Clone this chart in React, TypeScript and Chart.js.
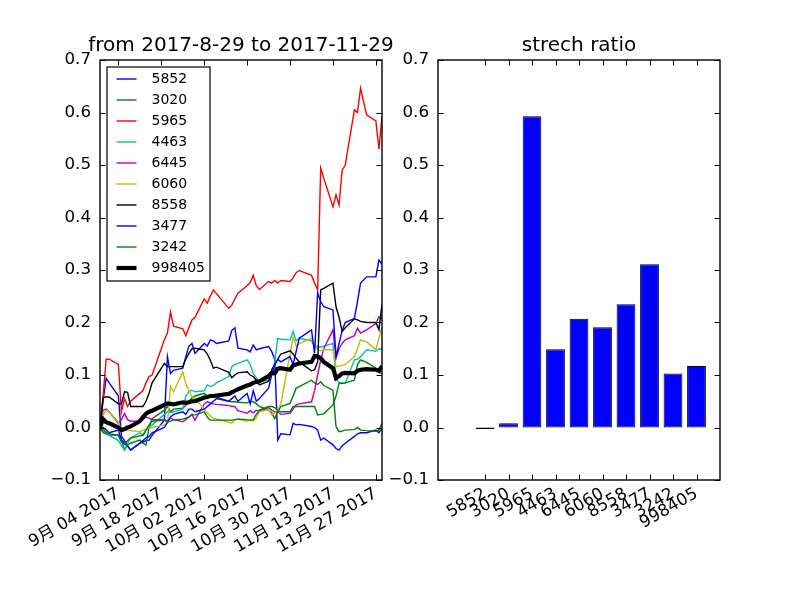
import { useEffect, useRef } from "react";
import { Chart, registerables } from "chart.js";

Chart.register(...registerables);

const FONT = "'DejaVu Sans', 'Noto Sans CJK JP', sans-serif";

// trading days (Tokyo) from 2017-08-29 to 2017-11-29
const tradingDates = [
  "2017-08-29", "2017-08-30", "2017-08-31", "2017-09-01",
  "2017-09-04", "2017-09-05", "2017-09-06", "2017-09-07", "2017-09-08",
  "2017-09-11", "2017-09-12", "2017-09-13", "2017-09-14", "2017-09-15",
  "2017-09-19", "2017-09-20", "2017-09-21", "2017-09-22",
  "2017-09-25", "2017-09-26", "2017-09-27", "2017-09-28", "2017-09-29",
  "2017-10-02", "2017-10-03", "2017-10-04", "2017-10-05", "2017-10-06",
  "2017-10-10", "2017-10-11", "2017-10-12", "2017-10-13",
  "2017-10-16", "2017-10-17", "2017-10-18", "2017-10-19", "2017-10-20",
  "2017-10-23", "2017-10-24", "2017-10-25", "2017-10-26", "2017-10-27",
  "2017-10-30", "2017-10-31", "2017-11-01", "2017-11-02",
  "2017-11-06", "2017-11-07", "2017-11-08", "2017-11-09", "2017-11-10",
  "2017-11-13", "2017-11-14", "2017-11-15", "2017-11-16", "2017-11-17",
  "2017-11-20", "2017-11-21", "2017-11-22", "2017-11-24",
  "2017-11-27", "2017-11-28", "2017-11-29",
];

const codes = ["5852", "3020", "5965", "4463", "6445", "6060", "8558", "3477", "3242", "998405"];
const lineColors = ["#0000ff", "#008000", "#ff0000", "#00bfbf", "#bf00bf", "#bfbf00", "#000000", "#0000ff", "#008000", "#000000"];
const lineWidths = [1.4, 1.4, 1.4, 1.4, 1.4, 1.4, 1.4, 1.4, 1.4, 4.2];

const s5852 = [
  0, 0.05, 0.094, 0.085,
  0.06, -0.017, -0.025, -0.035, -0.043,
  -0.03, -0.028, -0.025, -0.024, -0.015,
  0.014, 0.135, 0.103, 0.109,
  0.113, 0.135, 0.155, 0.16, 0.141,
  0.16, 0.155, 0.167, 0.165, 0.16,
  0.165, 0.185, 0.19, 0.151,
  0.148, 0.144, 0.157, 0.148, 0.15,
  0.154, 0.145, 0.13, -0.024, -0.012,
  -0.014, 0.008, 0.005, 0.006,
  0.002, 0.0, -0.005, -0.024, -0.02,
  -0.033, -0.04, -0.043, -0.035, -0.03,
  -0.017, -0.012, -0.01, -0.01,
  -0.005, -0.01, -0.002,
];
const s3020 = [
  0, -0.01, -0.012, -0.015,
  -0.014, -0.024, -0.043, -0.033, -0.03,
  -0.024, -0.03, -0.033, 0.0, 0.017,
  0.033, 0.04, 0.03, 0.035,
  0.037, 0.042, 0.05, 0.056, 0.06,
  0.065, 0.06, 0.06, 0.062, 0.058,
  0.05, 0.049, 0.049, 0.048,
  0.047, 0.05, 0.049, 0.045, 0.04,
  0.033, 0.028, 0.017, 0.03, 0.04,
  0.046, 0.06, 0.075, 0.078,
  0.09, 0.085, 0.082, 0.087, 0.08,
  0.071, 0.002, -0.008, -0.007, -0.005,
  -0.004, 0.0, -0.005, -0.006,
  -0.007, -0.005, 0.008,
];
const s5965 = [
  0, 0.06, 0.13, 0.13,
  0.12, 0.03, 0.055, 0.04, 0.05,
  0.065, 0.07, 0.085, 0.097, 0.1,
  0.167, 0.18, 0.22, 0.193,
  0.188, 0.175, 0.19, 0.205, 0.21,
  0.245, 0.237, 0.25, 0.262, 0.255,
  0.227, 0.233, 0.245, 0.256,
  0.27, 0.276, 0.29, 0.27, 0.263,
  0.278, 0.275, 0.28, 0.275, 0.28,
  0.278, 0.285, 0.295, 0.299,
  0.29, 0.275, 0.262, 0.494, 0.475,
  0.42, 0.443, 0.424, 0.49, 0.5,
  0.605, 0.6, 0.646, 0.595,
  0.584, 0.53, 0.593,
];
const s4463 = [
  0, -0.005, -0.01, -0.015,
  -0.025, -0.035, -0.043, -0.03, -0.02,
  -0.01, -0.015, -0.005, 0.0, 0.005,
  0.025, 0.03, 0.028, 0.03,
  0.035, 0.06, 0.068, 0.071, 0.068,
  0.07, 0.081, 0.078, 0.08, 0.085,
  0.097, 0.116, 0.12, 0.122,
  0.129, 0.12, 0.103, 0.095, 0.087,
  0.09, 0.1, 0.125, 0.17, 0.168,
  0.167, 0.183, 0.165, 0.17,
  0.165, 0.154, 0.155, 0.153, 0.155,
  0.16, 0.094, 0.086, 0.085, 0.084,
  0.129, 0.13, 0.135, 0.148,
  0.145, 0.15, 0.149,
];
const s6445 = [
  0, 0.033, 0.035, 0.03,
  0.008, 0.015, 0.027, 0.015, 0.012,
  0.012, 0.015, 0.02, 0.018, 0.015,
  0.015, 0.012, 0.018, 0.015,
  0.011, 0.015, 0.02, 0.025, 0.014,
  0.045, 0.049, 0.047, 0.045, 0.044,
  0.042, 0.04, 0.04, 0.032,
  0.027, 0.032, 0.028, 0.033, 0.031,
  0.038, 0.033, 0.03, 0.03, 0.025,
  0.027, 0.035, 0.043, 0.045,
  0.049, 0.07, 0.1, 0.129, 0.15,
  0.186, 0.132, 0.15, 0.16, 0.167,
  0.175, 0.189, 0.18, 0.186,
  0.198, 0.211, 0.207,
];
const s6060 = [
  0, 0.024, 0.033, 0.03,
  0.01, -0.005, -0.005, -0.006, -0.006,
  -0.008, -0.005, -0.003, -0.002, 0.0,
  0.005, 0.008, 0.078, 0.068,
  0.106, 0.084, 0.07, 0.059, 0.055,
  0.035, 0.027, 0.022, 0.018, 0.016,
  0.01, 0.008, 0.015, 0.016,
  0.012, 0.014, 0.012, 0.018, 0.03,
  0.034, 0.024, 0.027, 0.035, 0.045,
  0.14, 0.172, 0.155, 0.16,
  0.17, 0.16, 0.148, 0.146, 0.148,
  0.148, 0.116, 0.117, 0.118, 0.12,
  0.135, 0.15, 0.167, 0.163,
  0.148, 0.17, 0.191,
];
const s8558 = [
  0, 0.057, 0.058, 0.058,
  0.045, 0.045, 0.068, 0.067, 0.04,
  0.04, 0.04, 0.05, 0.065, 0.085,
  0.122, 0.116, 0.116, 0.116,
  0.116, 0.13, 0.141, 0.15, 0.151,
  0.148, 0.14, 0.128, 0.113, 0.115,
  0.105, 0.095, 0.1, 0.104,
  0.106, 0.1, 0.097, 0.09, 0.081,
  0.088, 0.11, 0.12, 0.13, 0.14,
  0.146, 0.14, 0.132, 0.125,
  0.108, 0.11, 0.125, 0.262, 0.265,
  0.275, 0.23, 0.21, 0.183, 0.19,
  0.207, 0.205, 0.202, 0.2,
  0.2, 0.186, 0.235,
];
const s3477 = [
  0, 0.0, -0.005, -0.01,
  -0.005, -0.024, -0.03, -0.035, -0.043,
  -0.03, -0.025, -0.02, -0.017, -0.01,
  0.0, 0.01, 0.02, 0.025,
  0.03, 0.025, 0.035, 0.035, 0.03,
  0.035, 0.04, 0.045, 0.05, 0.055,
  0.05, 0.055, 0.06, 0.05,
  0.065, 0.045, 0.07, 0.05, 0.055,
  0.075, 0.1, 0.12, 0.13, 0.125,
  0.135, 0.12, 0.145, 0.17,
  0.186, 0.141, 0.256, 0.24, 0.23,
  0.224, 0.135, 0.16, 0.185, 0.2,
  0.208, 0.24, 0.275, 0.287,
  0.287, 0.319, 0.311,
];
const s3242 = [
  0, -0.005, -0.01, -0.012,
  -0.015, -0.028, -0.032, -0.025, -0.02,
  -0.016, -0.015, -0.005, 0.005, 0.012,
  0.014, 0.01, 0.012, 0.014,
  0.016, 0.018, 0.02, 0.024, 0.024,
  0.03, 0.02, 0.014, 0.014, 0.014,
  0.014, 0.014, 0.015, 0.016,
  0.015, 0.014, 0.015, 0.025, 0.033,
  0.04, 0.04, 0.038, 0.033, 0.03,
  0.03, 0.04, 0.04, 0.04,
  0.04, 0.04, 0.024, 0.025, 0.026,
  0.043, 0.06, 0.084, 0.084, 0.085,
  0.09, 0.12, 0.129, 0.124,
  0.113, 0.105, 0.103,
];
const s998405 = [
  0, 0.016, 0.01, 0.008,
  0.0, -0.005, -0.003, 0.0, 0.002,
  0.012, 0.02, 0.026, 0.03, 0.032,
  0.043, 0.046, 0.045, 0.044,
  0.048, 0.047, 0.048, 0.05, 0.05,
  0.057, 0.058, 0.06, 0.06, 0.061,
  0.064, 0.067, 0.07, 0.073,
  0.08, 0.082, 0.085, 0.087, 0.088,
  0.098, 0.104, 0.103, 0.112, 0.113,
  0.11, 0.118, 0.12, 0.122,
  0.125, 0.136, 0.135, 0.132, 0.125,
  0.113, 0.094, 0.098, 0.103, 0.104,
  0.103, 0.108, 0.11, 0.111,
  0.11, 0.108, 0.117,
];
const seriesValues = [s5852, s3020, s5965, s4463, s6445, s6060, s8558, s3477, s3242, s998405];

const stretchRatio = [-0.003, 0.008, 0.593, 0.149, 0.207, 0.191, 0.235, 0.311, 0.103, 0.117];

const xTickDates = ["2017-09-04", "2017-09-18", "2017-10-02", "2017-10-16", "2017-10-30", "2017-11-13", "2017-11-27"];
const xTickLabels = ["9月 04 2017", "9月 18 2017", "10月 02 2017", "10月 16 2017", "10月 30 2017", "11月 13 2017", "11月 27 2017"];
const yTicks = [-0.1, 0, 0.1, 0.2, 0.3, 0.4, 0.5, 0.6, 0.7];

const DAY = 86400000;
const t0 = Date.parse(tradingDates[0]);
const dayOf = (d: string) => (Date.parse(d) - t0) / DAY;
const lastDay = dayOf(tradingDates[tradingDates.length - 1]);

const fmtY = (v: number) => v.toFixed(1).replace("-", "\u2212");

// matplotlib-ish frame with inward ticks on all four sides
const frameTicks = {
  id: "frameTicks",
  afterDraw(chart: any) {
    const { ctx, chartArea: a, scales } = chart;
    const len = 5.5;
    ctx.save();
    ctx.strokeStyle = "#000";
    ctx.lineWidth = 1;
    ctx.beginPath();
    for (const t of scales.x.ticks) {
      const px = Math.round(scales.x.getPixelForValue(t.value)) + 0.5;
      ctx.moveTo(px, a.bottom);
      ctx.lineTo(px, a.bottom - len);
      ctx.moveTo(px, a.top);
      ctx.lineTo(px, a.top + len);
    }
    for (const t of scales.y.ticks) {
      const py = Math.round(scales.y.getPixelForValue(t.value)) + 0.5;
      ctx.moveTo(a.left, py);
      ctx.lineTo(a.left + len, py);
      ctx.moveTo(a.right, py);
      ctx.lineTo(a.right - len, py);
    }
    ctx.stroke();
    ctx.lineWidth = 1.4;
    ctx.strokeRect(a.left, a.top, a.right - a.left, a.bottom - a.top);
    ctx.restore();
  },
};

// boxed legend in the upper left corner of the axes
const boxLegend = {
  id: "boxLegend",
  afterDatasetsDraw(chart: any) {
    const { ctx, chartArea: a } = chart;
    const sets = chart.data.datasets;
    const left = a.left + 7;
    const top = a.top + 7;
    const rowH = 21;
    ctx.save();
    ctx.fillStyle = "#fff";
    ctx.fillRect(left, top, 103, 214);
    ctx.strokeStyle = "#000";
    ctx.lineWidth = 1.2;
    ctx.strokeRect(left, top, 103, 214);
    ctx.font = `14px ${FONT}`;
    ctx.textBaseline = "middle";
    ctx.textAlign = "left";
    sets.forEach((ds: any, i: number) => {
      const y = top + 12 + i * rowH;
      ctx.strokeStyle = ds.borderColor;
      ctx.lineWidth = ds.borderWidth;
      ctx.beginPath();
      ctx.moveTo(left + 9.5, y);
      ctx.lineTo(left + 29.5, y);
      ctx.stroke();
      ctx.fillStyle = "#000";
      ctx.fillText(ds.label, left + 44.5, y);
    });
    ctx.restore();
  },
};

const yAxis = (width: number) => ({
  min: -0.1,
  max: 0.7,
  grid: { display: false, drawTicks: false },
  border: { display: false },
  afterFit: (s: any) => {
    s.width = width;
  },
  afterBuildTicks: (s: any) => {
    s.ticks = yTicks.map((v) => ({ value: v }));
  },
  ticks: {
    padding: 9,
    color: "#000",
    font: { size: 16.7, family: FONT },
    callback: (v: any) => fmtY(Number(v)),
  },
});

// empty right-hand axis that only reserves space, so the full-width title stays centred on the axes
const spacerAxis = (width: number) => ({
  type: "linear",
  position: "right",
  display: true,
  grid: { display: false, drawTicks: false },
  border: { display: false },
  ticks: { display: false },
  afterFit: (s: any) => {
    s.width = width;
  },
});

const titleOpts = (text: string) => ({
  display: true,
  text,
  color: "#000",
  fullSize: true,
  font: { size: 20, weight: "normal" as const, family: FONT },
  padding: { top: 34, bottom: 2 },
});

export default function App() {
  const lineRef = useRef<HTMLCanvasElement>(null);
  const barRef = useRef<HTMLCanvasElement>(null);

  useEffect(() => {
    let lineChart: Chart | undefined;
    let barChart: Chart | undefined;
    const days = tradingDates.map(dayOf);
    const tickDays = xTickDates.map(dayOf);

    if (lineRef.current) {
      lineChart = new Chart(lineRef.current, {
        type: "line",
        data: {
          datasets: codes.map((code, i) => ({
            label: code,
            data: seriesValues[i].map((v, j) => ({ x: days[j], y: v })),
            borderColor: lineColors[i],
            backgroundColor: lineColors[i],
            borderWidth: lineWidths[i],
            pointRadius: 0,
            tension: 0,
            fill: false,
            order: codes.length - i,
          })),
        },
        options: {
          responsive: false,
          animation: false,
          layout: { padding: 0 },
          plugins: {
            legend: { display: false },
            tooltip: { enabled: false },
            title: titleOpts("from 2017-8-29 to 2017-11-29"),
          },
          scales: {
            x: {
              type: "linear",
              min: 0,
              max: lastDay,
              grid: { display: false, drawTicks: false },
              border: { display: false },
              afterFit: (s: any) => {
                s.height = 120;
              },
              afterBuildTicks: (s: any) => {
                s.ticks = tickDays.map((d) => ({ value: d }));
              },
              ticks: {
                autoSkip: false,
                minRotation: 30,
                maxRotation: 30,
                padding: 4,
                color: "#000",
                font: { size: 16.7, family: FONT },
                callback: (v: any) => xTickLabels[tickDays.indexOf(Number(v))],
              },
            },
            y: yAxis(100) as any,
            spacer: spacerAxis(100) as any,
          },
        },
        plugins: [boxLegend, frameTicks],
      });
    }

    if (barRef.current) {
      barChart = new Chart(barRef.current, {
        type: "bar",
        data: {
          datasets: [
            {
              label: "strech ratio",
              data: stretchRatio.map((v, i) => ({ x: i, y: v })),
              backgroundColor: "#0000ff",
              borderColor: "#000000",
              borderWidth: 1,
              borderSkipped: false,
              barPercentage: 0.8,
              categoryPercentage: 1.0,
            },
          ],
        },
        options: {
          responsive: false,
          animation: false,
          layout: { padding: 0 },
          plugins: {
            legend: { display: false },
            tooltip: { enabled: false },
            title: titleOpts("strech ratio"),
          },
          scales: {
            x: {
              type: "linear",
              min: -2,
              max: 10,
              offset: false,
              grid: { display: false, drawTicks: false },
              border: { display: false },
              afterFit: (s: any) => {
                s.height = 120;
              },
              afterBuildTicks: (s: any) => {
                s.ticks = codes.map((_, i) => ({ value: i }));
              },
              ticks: {
                autoSkip: false,
                minRotation: 30,
                maxRotation: 30,
                padding: 4,
                color: "#000",
                font: { size: 16.7, family: FONT },
                callback: (v: any) => codes[Number(v)],
              },
            },
            y: yAxis(58) as any,
            spacer: spacerAxis(58) as any,
          },
        },
        plugins: [frameTicks],
      });
    }

    return () => {
      if (lineChart) lineChart.destroy();
      if (barChart) barChart.destroy();
    };
  }, []);

  return (
    <div style={{ position: "absolute", left: 0, top: 0, width: 800, height: 600, background: "#fff" }}>
      <canvas ref={lineRef} width={482} height={600} style={{ position: "absolute", left: 0, top: 0 }}></canvas>
      <canvas ref={barRef} width={398} height={600} style={{ position: "absolute", left: 380, top: 0 }}></canvas>
    </div>
  );
}
